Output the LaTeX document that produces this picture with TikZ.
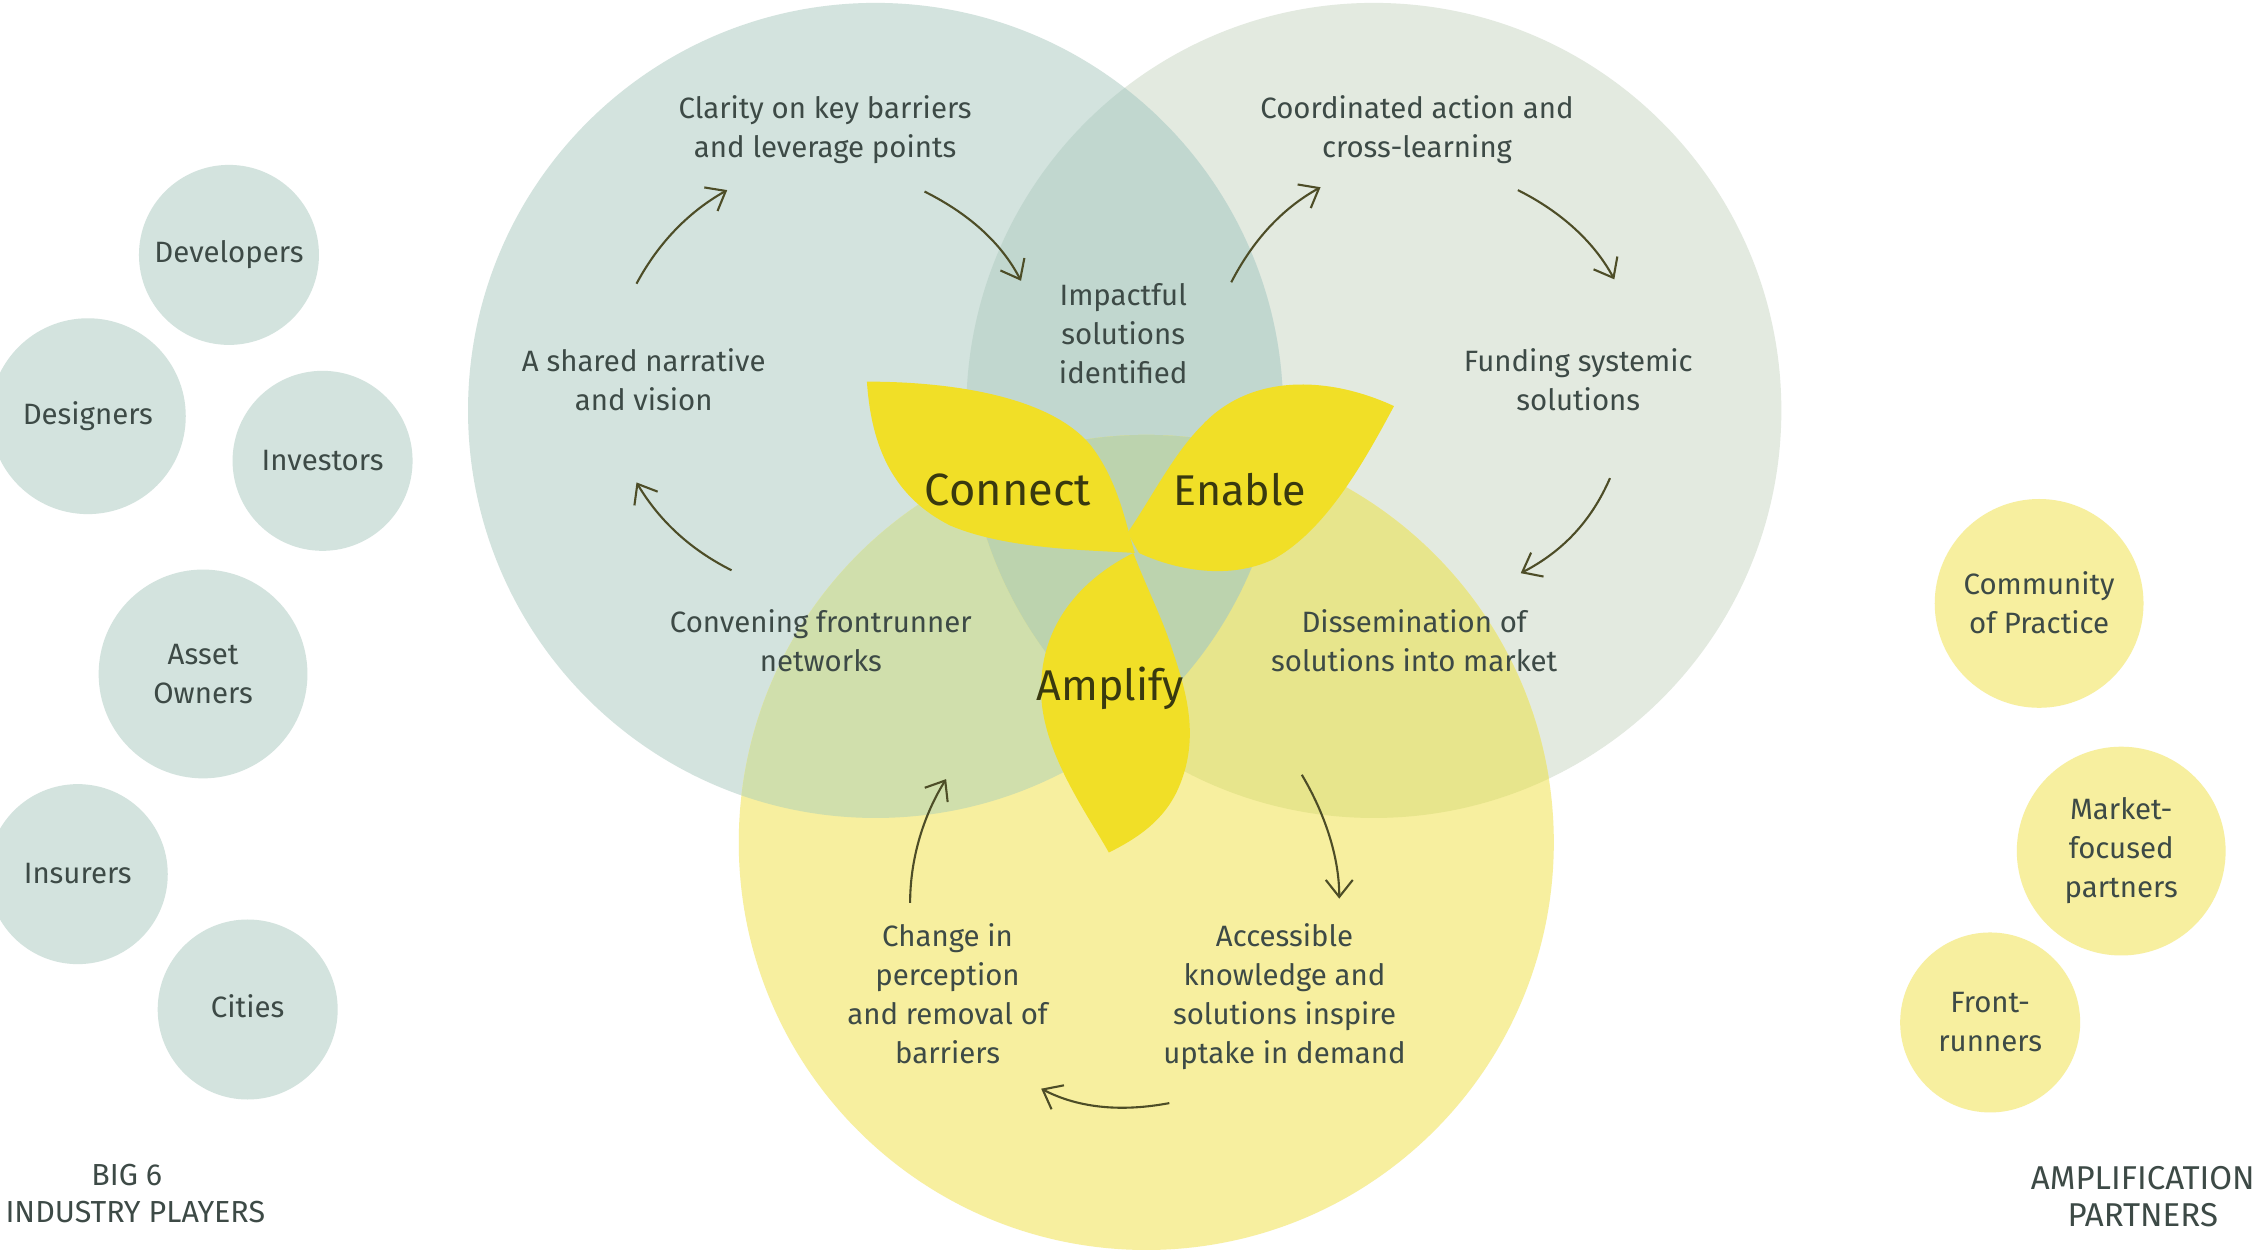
\documentclass[tikz,border=0pt]{standalone}
\usepackage{fontspec}
\setmainfont{Fira Sans}
\usetikzlibrary{arrows.meta}
\definecolor{cTeal}{HTML}{D3E3DE}
\definecolor{cGrey}{HTML}{E3EAE0}
\definecolor{cYel}{HTML}{F7EF9F}
\definecolor{cTG}{HTML}{C1D7CF}
\definecolor{cTY}{HTML}{D0DFAC}
\definecolor{cGY}{HTML}{E7E58C}
\definecolor{cAll}{HTML}{BCD3AE}
\definecolor{cPetal}{HTML}{F1DF27}
\definecolor{cText}{HTML}{3D4A46}
\definecolor{cDark}{HTML}{39390F}
\tikzset{
  lbl/.style={align=center,text=cText,font=\fontsize{14.7}{19.5}\selectfont,inner sep=0pt},
  bigword/.style={align=center,text=cDark,font=\fontsize{21.5}{24}\selectfont,inner sep=0pt},
  captext/.style={align=center,text=cText,font=\fontsize{16}{18.5}\selectfont,inner sep=0pt},
  bub/.style={circle,minimum size=#1*0.72pt,inner sep=0pt,align=center,text=cText,font=\fontsize{14.7}{19.5}\selectfont},
  tbub/.style={bub=#1,fill=cTeal},
  ybub/.style={bub=#1,fill=cYel},
  flow/.style={draw=cDark!90,line width=1.05pt,-{Straight Barb[length=8.5pt,width=13.5pt,line width=1.05pt]}},
  petal/.style={fill=cPetal}
}
\def\rr{203.76pt}
\def\cT{(608,285) circle [radius=\rr]}
\def\cG{(954,285) circle [radius=\rr]}
\def\cY{(796,585) circle [radius=\rr]}
\begin{document}
\begin{tikzpicture}[x=0.72pt,y=-0.72pt]
\useasboundingbox (0,0) rectangle (1568,868);
\fill[white] (0,0) rectangle (1568,868);
% big circles
\fill[cGrey] \cG;
\fill[cTeal] \cT;
\fill[cYel] \cY;
\begin{scope}\clip \cT; \fill[cTG] \cG; \end{scope}
\begin{scope}\clip \cT; \fill[cTY] \cY; \end{scope}
\begin{scope}\clip \cG; \fill[cGY] \cY; \end{scope}
\begin{scope}\clip \cT; \clip \cG; \fill[cAll] \cY; \end{scope}
% petals
\fill[petal] (602,265) .. controls (660,265) and (730,275) .. (758,310)
  .. controls (777,335) and (782,365) .. (788,384)
  .. controls (760,382) and (700,382) .. (660,365)
  .. controls (620,345) and (605,310) .. (602,265) -- cycle;
\fill[petal] (968,282) .. controls (925,262) and (870,258) .. (835,295)
  .. controls (815,315) and (800,345) .. (783,370) -- (791,384)
  .. controls (810,393) and (850,405) .. (885,388)
  .. controls (920,368) and (945,325) .. (968,282) -- cycle;
\fill[petal] (787,384) .. controls (795,405) and (805,425) .. (812,445)
  .. controls (822,475) and (835,510) .. (818,548)
  .. controls (808,570) and (790,582) .. (770,592)
  .. controls (755,565) and (722,520) .. (723,478)
  .. controls (723,430) and (755,400) .. (787,384) -- cycle;
% circle labels
\node[lbl] (clarity) at (573,90) {Clarity on key barriers\\and leverage points};
\node[lbl] (coord) at (984,90) {Coordinated action and\\cross-learning};
\node[lbl] (impact) at (780,232) {Impactful\\solutions\\identified};
\node[lbl] (shared) at (447,264) {A shared narrative\\and vision};
\node[lbl] (funding) at (1096,264) {Funding systemic\\solutions};
\node[lbl] (convening) at (570,445) {Convening frontrunner\\networks};
\node[lbl] (dissem) at (982,445) {Dissemination of\\solutions into market};
\node[lbl] (change) at (658,690) {Change in\\perception\\and removal of\\barriers};
\node[lbl] (access) at (892,692) {Accessible\\knowledge and\\solutions inspire\\uptake in demand};
\node[bigword,font=\fontsize{22.6}{24}\selectfont] (connect) at (700,340) {Connect};
\node[bigword] (enable) at (861,340) {Enable};
\node[bigword] (amplify) at (771,478) {Amplify};
% bubbles
\node[tbub=125] (dev) at (159,177) {\raisebox{-0.7pt}{Developers}};
\node[tbub=136] (des) at (61,289) {\raisebox{0.7pt}{Designers}};
\node[tbub=125] (inv) at (224,320) {Investors};
\node[tbub=145] (asset) at (141,468) {Asset\\Owners};
\node[tbub=125] (ins) at (54,607) {\raisebox{0.7pt}{Insurers}};
\node[tbub=125] (cit) at (172,701) {\raisebox{3pt}{Cities}};
\node[ybub=145] (cop) at (1416,419) {\raisebox{0.7pt}{Community}\\\raisebox{0.7pt}{of Practice}};
\node[ybub=145] (mkt) at (1473,591) {Market-\\focused\\partners};
\node[ybub=125] (front) at (1382,710) {\raisebox{-0.7pt}{Front-}\\\raisebox{-0.7pt}{runners}};
\node[captext,font=\fontsize{15.2}{18.5}\selectfont] (big6) at (94,829) {\mbox{BIG 6\hspace{8.6pt}}\\INDUSTRY PLAYERS};
\node[captext,font=\fontsize{16.5}{18.5}\selectfont] (ampl) at (1488,831) {AMPLIFICATION\\PARTNERS};
% arrows
\coordinate (a1) at (442,197); \coordinate (b1) at (505,132);
\coordinate (a2) at (642,133); \coordinate (b2) at (709,195);
\coordinate (a3) at (855,196); \coordinate (b3) at (917,130);
\coordinate (a4) at (1054,132); \coordinate (b4) at (1121,194);
\coordinate (a5) at (1118,332); \coordinate (b5) at (1056,398);
\coordinate (a6) at (508,396); \coordinate (b6) at (442,335);
\coordinate (a7) at (904,538); \coordinate (b7) at (930,624);
\coordinate (a8) at (812,766); \coordinate (b8) at (723,756);
\coordinate (a9) at (632,627); \coordinate (b9) at (657,541);
\draw[flow] (a1) .. controls (458,167) and (480,146) .. (b1);
\draw[flow] (a2) .. controls (672,148) and (695,168) .. (b2);
\draw[flow] (a3) .. controls (870,167) and (890,145) .. (b3);
\draw[flow] (a4) .. controls (1084,147) and (1107,168) .. (b4);
\draw[flow] (a5) .. controls (1105,362) and (1085,383) .. (b5);
\draw[flow] (a6) .. controls (480,382) and (458,362) .. (b6);
\draw[flow] (a7) .. controls (920,565) and (930,595) .. (b7);
\draw[flow] (a8) .. controls (780,772) and (750,770) .. (b8);
\draw[flow] (a9) .. controls (632,595) and (642,565) .. (b9);
\end{tikzpicture}
\end{document}
